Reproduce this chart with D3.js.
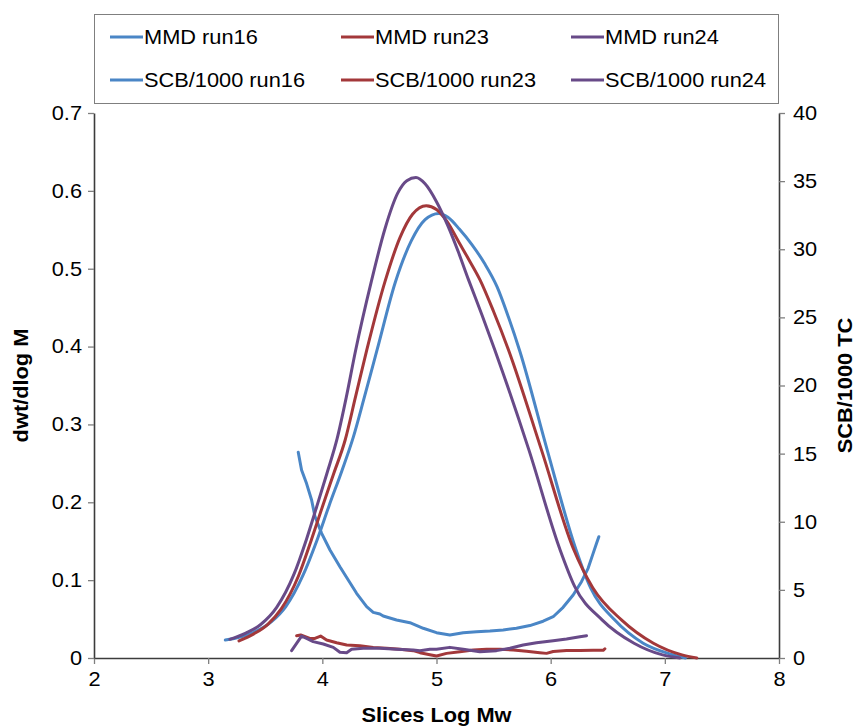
<!DOCTYPE html>
<html><head><meta charset="utf-8">
<script src="https://cdn.jsdelivr.net/npm/d3@7"></script>
<style>
body{margin:0;background:#fff;}
svg text{font-family:"Liberation Sans",Arial,sans-serif;}
</style></head>
<body><svg id="c" width="859" height="728"></svg>
<script>
// ---- data (log Mw, dwt/dlogM) ----
const mmdRun16 = [[3.15,0.023],[3.40,0.033],[3.55,0.046],[3.68,0.066],[3.83,0.106],[3.95,0.150],[4.06,0.196],[4.17,0.240],[4.27,0.283],[4.37,0.336],[4.48,0.396],[4.64,0.483],[4.78,0.536],[4.90,0.563],[5.02,0.571],[5.10,0.566],[5.20,0.551],[5.31,0.531],[5.42,0.507],[5.53,0.477],[5.63,0.438],[5.73,0.394],[5.97,0.267],[6.22,0.140],[6.35,0.090],[6.56,0.049],[6.81,0.019],[7.05,0.005],[7.18,0.0]];
const mmdRun23 = [[3.27,0.022],[3.40,0.031],[3.52,0.043],[3.64,0.063],[3.79,0.105],[3.90,0.150],[4.00,0.194],[4.10,0.237],[4.20,0.280],[4.29,0.335],[4.39,0.396],[4.55,0.484],[4.68,0.540],[4.79,0.570],[4.91,0.581],[5.00,0.576],[5.09,0.561],[5.20,0.533],[5.29,0.510],[5.38,0.486],[5.50,0.445],[5.63,0.396],[5.92,0.267],[6.20,0.140],[6.37,0.090],[6.62,0.049],[6.90,0.019],[7.15,0.004],[7.28,0.0]];
const mmdRun24 = [[3.19,0.024],[3.33,0.032],[3.46,0.043],[3.60,0.065],[3.75,0.107],[3.86,0.152],[3.95,0.194],[4.04,0.237],[4.13,0.282],[4.21,0.335],[4.29,0.394],[4.43,0.484],[4.55,0.552],[4.66,0.597],[4.74,0.613],[4.82,0.617],[4.90,0.609],[5.00,0.586],[5.10,0.555],[5.19,0.522],[5.28,0.486],[5.40,0.440],[5.51,0.396],[5.81,0.267],[6.08,0.140],[6.21,0.092],[6.45,0.049],[6.73,0.019],[6.98,0.004],[7.13,0.0]];
// ---- data (log Mw, SCB/1000 TC) ----
const scbRun16 = [[3.789,15.1],[3.818,13.8],[3.862,12.8],[3.906,11.6],[3.935,10.4],[3.994,9.15],[4.067,7.93],[4.154,6.70],[4.227,5.72],[4.300,4.75],[4.388,3.77],[4.446,3.35],[4.504,3.23],[4.533,3.08],[4.650,2.79],[4.767,2.59],[4.884,2.18],[5.000,1.86],[5.117,1.69],[5.234,1.86],[5.351,1.93],[5.468,1.98],[5.584,2.06],[5.700,2.18],[5.818,2.38],[5.934,2.70],[6.022,3.03],[6.109,3.72],[6.197,4.62],[6.270,5.60],[6.328,6.58],[6.372,7.68],[6.402,8.42],[6.422,8.90]];
const scbRun23 = [[3.775,1.64],[3.81,1.69],[3.891,1.44],[3.935,1.44],[3.985,1.61],[4.037,1.32],[4.125,1.12],[4.213,0.95],[4.329,0.90],[4.446,0.78],[4.563,0.71],[4.680,0.64],[4.796,0.54],[4.855,0.39],[4.942,0.24],[5.000,0.15],[5.088,0.34],[5.205,0.46],[5.321,0.59],[5.438,0.64],[5.555,0.64],[5.672,0.59],[5.789,0.49],[5.905,0.39],[5.964,0.34],[6.022,0.48],[6.139,0.55],[6.256,0.55],[6.372,0.56],[6.46,0.56],[6.475,0.68]];
const scbRun24 = [[3.731,0.54],[3.818,1.61],[3.862,1.44],[3.920,1.20],[4.008,1.03],[4.096,0.78],[4.154,0.42],[4.213,0.39],[4.256,0.64],[4.358,0.71],[4.504,0.71],[4.650,0.64],[4.796,0.59],[4.855,0.54],[4.942,0.64],[5.000,0.64],[5.117,0.78],[5.234,0.64],[5.380,0.46],[5.526,0.54],[5.643,0.71],[5.759,0.95],[5.876,1.12],[6.022,1.27],[6.139,1.39],[6.256,1.56],[6.314,1.64]];

const xTicks = [2,3,4,5,6,7,8];
const yLeftTicks = [0,0.1,0.2,0.3,0.4,0.5,0.6,0.7];
const yRightTicks = [0,5,10,15,20,25,30,35,40];
const legendLabels = ["MMD run16","MMD run23","MMD run24","SCB/1000 run16","SCB/1000 run23","SCB/1000 run24"];
const colors = {run16:"#4a86c6", run23:"#a3383a", run24:"#684a88"};

const svg = d3.select("#c");
const L=94, R=779, T=113, B=658;
const x = d3.scaleLinear().domain([2,8]).range([L,R]);
const yL = d3.scaleLinear().domain([0,0.7]).range([B,T]);
const yR = d3.scaleLinear().domain([0,40]).range([B,T]);

const fs = 20, sx = 1.09;
// axes
const axCol = "#3c3c3c";
const gx = svg.append("g").attr("transform",`translate(0,${B})`)
  .call(d3.axisBottom(x).tickValues(xTicks).tickFormat(d3.format("d")).tickSize(6).tickSizeOuter(0));
const gl = svg.append("g").attr("transform",`translate(${L},0)`)
  .call(d3.axisLeft(yL).tickValues(yLeftTicks).tickFormat(d=>d===0?"0":d3.format(".1f")(d)).tickSize(6).tickSizeOuter(0));
const gr = svg.append("g").attr("transform",`translate(${R},0)`)
  .call(d3.axisRight(yR).tickValues(yRightTicks).tickFormat(d3.format("d")).tickSize(6).tickSizeOuter(0));
[gx,gl,gr].forEach(g=>{
  g.select(".domain").attr("stroke",axCol).attr("stroke-width",1.6);
  g.selectAll(".tick line").attr("stroke","#7f7f7f").attr("stroke-width",1.3);
  g.selectAll(".tick text").attr("font-size",fs).attr("fill","#000")
    .attr("font-family","Liberation Sans, Arial, sans-serif").attr("transform",`scale(${sx},1)`);
});
gx.selectAll(".tick text").attr("dy","0.95em").attr("y",9);
gl.selectAll(".tick text").attr("x",-12/sx);
gr.selectAll(".tick text").attr("x",14/sx);

// axis titles
svg.append("text").attr("transform",`translate(${(L+R)/2},722) scale(${sx},1)`).attr("text-anchor","middle")
  .attr("font-size",fs).attr("font-weight","bold").text("Slices Log Mw");
svg.append("text").attr("transform",`translate(28,${(T+B)/2}) rotate(-90) scale(${sx},1)`).attr("text-anchor","middle")
  .attr("font-size",fs).attr("font-weight","bold").text("dwt/dlog M");
svg.append("text").attr("transform",`translate(852,${(T+B)/2}) rotate(-90) scale(${sx},1)`).attr("text-anchor","middle")
  .attr("font-size",fs).attr("font-weight","bold").text("SCB/1000 TC");

// lines
const lineL = d3.line().x(d=>x(d[0])).y(d=>yL(d[1])).curve(d3.curveMonotoneX);
const lineR = d3.line().x(d=>x(d[0])).y(d=>yR(d[1])).curve(d3.curveLinear);
const series = [
  {d:scbRun16,f:lineR,c:colors.run16},{d:scbRun23,f:lineR,c:colors.run23},{d:scbRun24,f:lineR,c:colors.run24},
  {d:mmdRun16,f:lineL,c:colors.run16},{d:mmdRun23,f:lineL,c:colors.run23},{d:mmdRun24,f:lineL,c:colors.run24}
];
series.forEach(s=>{
  svg.append("path").attr("d",s.f(s.d)).attr("fill","none").attr("stroke",s.c)
    .attr("stroke-width",3).attr("stroke-linejoin","round").attr("stroke-linecap","round");
});

// legend
svg.append("rect").attr("x",94.5).attr("y",14.5).attr("width",684).attr("height",89)
  .attr("fill","#fff").attr("stroke","#7f7f7f").attr("stroke-width",1);
const colX = [110,341,571], rowY = [37,80];
const legCols = [colors.run16,colors.run23,colors.run24];
legendLabels.forEach((lab,i)=>{
  const cx = colX[i%3], cy = rowY[Math.floor(i/3)];
  svg.append("line").attr("x1",cx).attr("x2",cx+33).attr("y1",cy).attr("y2",cy)
    .attr("stroke",legCols[i%3]).attr("stroke-width",3);
  svg.append("text").attr("transform",`translate(${cx+34},${cy}) scale(${sx},1)`).attr("dy","0.35em").attr("font-size",fs).text(lab);
});
</script></body></html>
